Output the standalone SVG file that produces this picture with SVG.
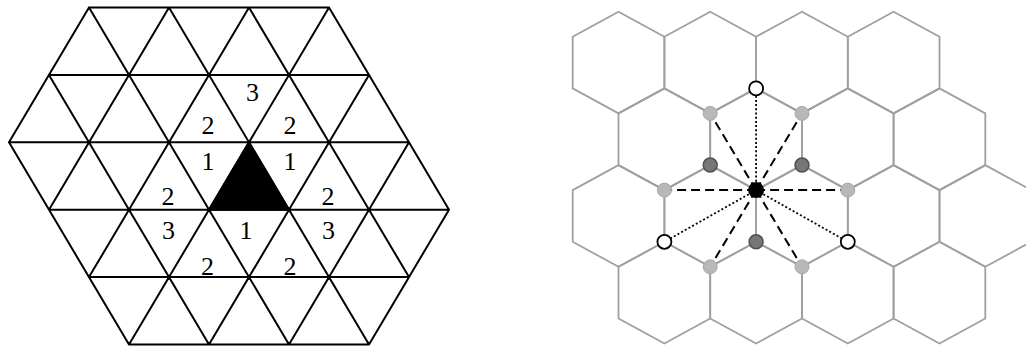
<svg xmlns="http://www.w3.org/2000/svg" width="1026" height="350" viewBox="0 0 1026 350">
<style>
.tri{stroke:#000;stroke-width:2;fill:none;stroke-linecap:round}
.lbl{font-family:"Liberation Serif","Times New Roman",serif;font-size:26px;fill:#000;text-anchor:middle}
.hex{stroke:#a0a0a0;stroke-width:1.8;fill:none;stroke-linejoin:round}
.dash{stroke:#000;stroke-width:2;stroke-dasharray:9 5;fill:none}
.dot{stroke:#000;stroke-width:1.8;stroke-dasharray:2 2.2;fill:none}
.light{fill:#b8b8b8;stroke:#a8a8a8;stroke-width:1}
.dark{fill:#777;stroke:#505050;stroke-width:1.5}
.open{fill:#fff;stroke:#000;stroke-width:1.8}
</style>
<g id="triangle-grid">
<path class="tri" d="M89,7.5H329M49,74.9H369M9,142.3H409M49,209.7H449M89,277.1H409M129,344.5H369
M9,142.3L129,344.5M49,74.9L209,344.5M89,7.5L289,344.5M169,7.5L369,344.5M249,7.5L409,277.1M329,7.5L449,209.7
M89,7.5L9,142.3M169,7.5L49,209.7M249,7.5L89,277.1M329,7.5L129,344.5M369,74.9L209,344.5M409,142.3L289,344.5M449,209.7L369,344.5"/>
<polygon id="center-triangle" points="249,142.3 209,209.7 289,209.7" fill="#000" stroke="#000" stroke-width="2" stroke-linejoin="round"/>
<g id="labels">
<text class="lbl" x="252.5" y="100.5">3</text>
<text class="lbl" x="208" y="134">2</text>
<text class="lbl" x="290" y="134">2</text>
<text class="lbl" x="208" y="170">1</text>
<text class="lbl" x="290" y="170">1</text>
<text class="lbl" x="168" y="205">2</text>
<text class="lbl" x="328" y="205">2</text>
<text class="lbl" x="168.5" y="239">3</text>
<text class="lbl" x="246" y="239">1</text>
<text class="lbl" x="328.5" y="239">3</text>
<text class="lbl" x="207.5" y="275">2</text>
<text class="lbl" x="290" y="275">2</text>
</g>
</g>
<g id="hex-grid" class="hex">
<polygon points="572.7,36.7 618.5,11.7 664.4,36.7 664.4,88.4 618.5,113.4 572.7,88.4"/>
<polygon points="664.4,36.7 710.2,11.7 756.1,36.7 756.1,88.4 710.2,113.4 664.4,88.4"/>
<polygon points="756.1,36.7 802,11.7 847.8,36.7 847.8,88.4 802,113.4 756.1,88.4"/>
<polygon points="847.8,36.7 893.6,11.7 939.5,36.7 939.5,88.4 893.6,113.4 847.8,88.4"/>
<polygon points="618.5,113.4 664.4,88.4 710.2,113.4 710.2,165.1 664.4,190.1 618.5,165.1"/>
<polygon points="710.2,113.4 756.1,88.4 802,113.4 802,165.1 756.1,190.1 710.2,165.1"/>
<polygon points="802,113.4 847.8,88.4 893.6,113.4 893.6,165.1 847.8,190.1 802,165.1"/>
<polygon points="893.6,113.4 939.5,88.4 985.3,113.4 985.3,165.1 939.5,190.1 893.6,165.1"/>
<polygon points="572.7,190.1 618.5,165.1 664.4,190.1 664.4,241.8 618.5,266.8 572.7,241.8"/>
<polygon points="664.4,190.1 710.2,165.1 756.1,190.1 756.1,241.8 710.2,266.8 664.4,241.8"/>
<polygon points="756.1,190.1 802,165.1 847.8,190.1 847.8,241.8 802,266.8 756.1,241.8"/>
<polygon points="847.8,190.1 893.6,165.1 939.5,190.1 939.5,241.8 893.6,266.8 847.8,241.8"/>
<polygon points="939.5,190.1 985.3,165.1 1031.2,190.1 1031.2,241.8 985.3,266.8 939.5,241.8"/>
<polygon points="618.5,266.8 664.4,241.8 710.2,266.8 710.2,318.5 664.4,343.5 618.5,318.5"/>
<polygon points="710.2,266.8 756.1,241.8 802,266.8 802,318.5 756.1,343.5 710.2,318.5"/>
<polygon points="802,266.8 847.8,241.8 893.6,266.8 893.6,318.5 847.8,343.5 802,318.5"/>
<polygon points="893.6,266.8 939.5,241.8 985.3,266.8 985.3,318.5 939.5,343.5 893.6,318.5"/>
</g>
<g id="connectors">
<line class="dash" x1="756.1" y1="190.1" x2="710.2" y2="113.4"/>
<line class="dash" x1="756.1" y1="190.1" x2="802" y2="113.4"/>
<line class="dash" x1="756.1" y1="190.1" x2="664.4" y2="190.1"/>
<line class="dash" x1="756.1" y1="190.1" x2="847.8" y2="190.1"/>
<line class="dash" x1="756.1" y1="190.1" x2="710.2" y2="266.8"/>
<line class="dash" x1="756.1" y1="190.1" x2="802" y2="266.8"/>
<line class="dot" x1="756.1" y1="190.1" x2="756.1" y2="88.4"/>
<line class="dot" x1="756.1" y1="190.1" x2="664.4" y2="241.8"/>
<line class="dot" x1="756.1" y1="190.1" x2="847.8" y2="241.8"/>
</g>
<g id="node-center"><circle cx="756.1" cy="190.1" r="8" fill="#000"/></g>
<g id="nodes-dark">
<circle class="dark" cx="710.2" cy="165.1" r="7"/>
<circle class="dark" cx="802" cy="165.1" r="7"/>
<circle class="dark" cx="756.1" cy="241.8" r="7"/>
</g>
<g id="nodes-light">
<circle class="light" cx="710.2" cy="113.4" r="7"/>
<circle class="light" cx="802" cy="113.4" r="7"/>
<circle class="light" cx="664.4" cy="190.1" r="7"/>
<circle class="light" cx="847.8" cy="190.1" r="7"/>
<circle class="light" cx="710.2" cy="266.8" r="7"/>
<circle class="light" cx="802" cy="266.8" r="7"/>
</g>
<g id="nodes-open">
<circle class="open" cx="756.1" cy="88.4" r="7"/>
<circle class="open" cx="664.4" cy="241.8" r="7"/>
<circle class="open" cx="847.8" cy="241.8" r="7"/>
</g>
</svg>
